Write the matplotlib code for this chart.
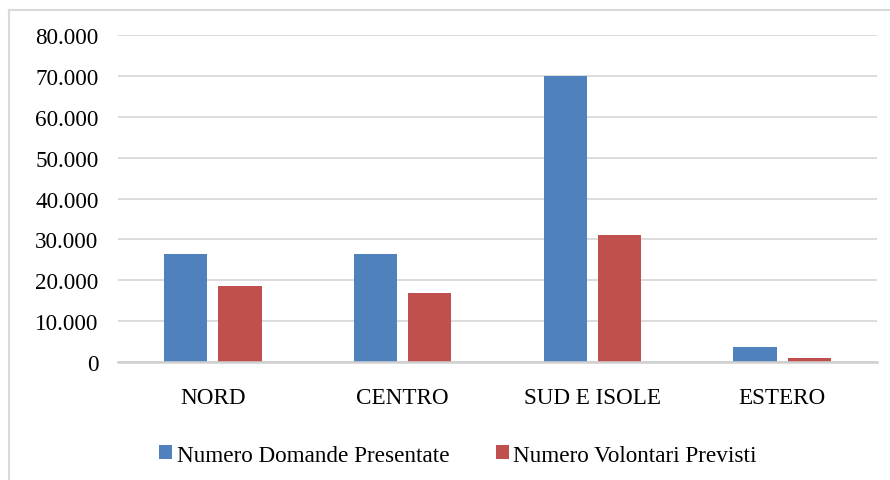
import numpy as np
import matplotlib
matplotlib.use("Agg")
import matplotlib.pyplot as plt
from matplotlib.lines import Line2D
from matplotlib.ticker import FuncFormatter

categories = ["NORD", "CENTRO", "SUD E ISOLE", "ESTERO"]
domande = [26400, 26500, 69900, 3600]
volontari = [18500, 16900, 31050, 1000]
series_names = ["Numero Domande Presentate", "Numero Volontari Previsti"]

plt.rcParams['font.family'] = ['Liberation Serif', 'DejaVu Serif']
plt.rcParams['font.size'] = 16.7

fig = plt.figure(figsize=(8.9, 4.81), dpi=100)
ax = fig.add_axes([118 / 890, 1 - 363 / 481, 759 / 890, 327 / 481])

x = np.arange(len(categories))
w = 0.227
off = 0.143
ax.bar(x - off, domande, w, color='#4F81BD', label=series_names[0], zorder=3)
ax.bar(x + off, volontari, w, color='#C0504D', label=series_names[1], zorder=3)

ax.set_xlim(-0.5, 3.5)
ax.set_ylim(0, 80000)
ax.set_yticks(np.arange(0, 80001, 10000))
ax.yaxis.set_major_formatter(FuncFormatter(lambda v, p: f"{int(v):,}".replace(",", ".")))
ax.yaxis.grid(True, color='#d9d9d9', linewidth=1.3, zorder=0)
ax.set_xticks(x)
ax.set_xticklabels(categories)
ax.tick_params(axis='both', length=0, colors='black')
ax.tick_params(axis='y', pad=14)
ax.tick_params(axis='x', pad=18)
for s in ['top', 'right', 'left']:
    ax.spines[s].set_visible(False)
ax.spines['bottom'].set_color('#d0d0d0')
ax.spines['bottom'].set_linewidth(1.8)
ax.spines['bottom'].set_zorder(4)

fig.legend(loc='center', bbox_to_anchor=(458 / 890, 1 - 456 / 481), ncol=2,
           frameon=False, handlelength=0.55, handleheight=0.55, handletextpad=0.2,
           columnspacing=2.0)

# outer chart frame (only top and left edges visible in the crop)
fig.add_artist(Line2D([8.5 / 890, 1], [1 - 10.5 / 481] * 2, color='#d9d9d9', lw=1.5,
                      transform=fig.transFigure))
fig.add_artist(Line2D([8.5 / 890] * 2, [0, 1 - 10.5 / 481], color='#d9d9d9', lw=1.5,
                      transform=fig.transFigure))

fig.savefig("out.png", dpi=100)
